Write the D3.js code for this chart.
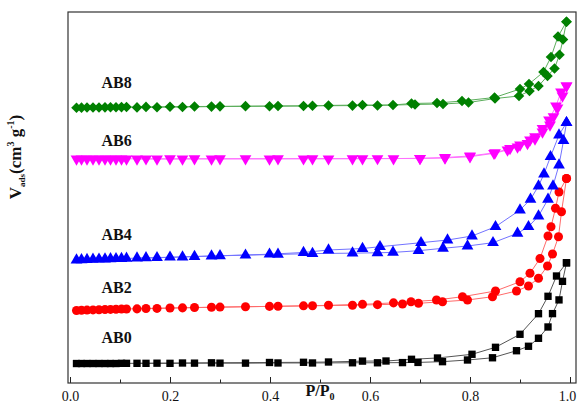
<!DOCTYPE html>
<html>
<head>
<meta charset="utf-8">
<script src="https://cdn.jsdelivr.net/npm/d3@7"></script>
<style>
  body { margin: 0; background: #fff; }
  svg { display: block; }
</style>
</head>
<body>
<svg></svg>
<script>
const width = 578;
const height = 404;

// relative pressure points shared by the low part of every adsorption branch
const pLowAds = [0.013, 0.023, 0.034, 0.046, 0.058, 0.07, 0.081, 0.092, 0.103, 0.113,
  0.152, 0.2, 0.249, 0.3, 0.351, 0.416, 0.485, 0.565, 0.615];

const majorTicks = [0, 0.2, 0.4, 0.6, 0.8, 1.0];
const minorTicks = [0.1, 0.3, 0.5, 0.7, 0.9];

// V_ads (curves offset vertically, arbitrary units)
const ab0AdsLow = [5.25, 5.25, 5.25, 5.25, 5.25, 5.25, 5.25, 5.25, 5.3, 5.3, 5.3, 5.3, 5.35, 5.35, 5.35, 5.4, 5.4, 5.45, 5.45];
const ab0AdsHigh = [[0.665, 5.5], [0.696, 5.55], [0.745, 5.75], [0.795, 6.2], [0.845, 6.8], [0.893, 8.7], [0.917, 9.9],
  [0.937, 12.05], [0.956, 15.1], [0.965, 18.7], [0.978, 22.4], [0.985, 27.4], [0.993, 32.4]];
const ab0Des = [[0.993, 32.4], [0.973, 28.84], [0.956, 23.37], [0.937, 18.68], [0.9, 13.13], [0.851, 9.62], [0.804, 7.74],
  [0.735, 6.74], [0.683, 6.39], [0.632, 5.93], [0.585, 5.9], [0.517, 5.66], [0.467, 5.58], [0.399, 5.53], [0.283, 5.44],
  [0.225, 5.39], [0.174, 5.34], [0.134, 5.31]];

const ab2AdsLow = [19.54, 19.6, 19.65, 19.7, 19.76, 19.81, 19.84, 19.89, 19.92, 19.95, 20.08, 20.22, 20.35, 20.46, 20.57, 20.67, 20.81, 20.97, 21.11];
const ab2AdsHigh = [[0.665, 21.29], [0.697, 21.48], [0.745, 21.91], [0.795, 22.37], [0.845, 23.26], [0.893, 24.8], [0.917, 26.15],
  [0.937, 28.22], [0.955, 31.54], [0.965, 34.77], [0.977, 39.43], [0.983, 46.17], [0.993, 55.12]];
const ab2Des = [[0.993, 55.12], [0.978, 51.48], [0.971, 47.09], [0.962, 42.13], [0.956, 39.62], [0.94, 33.56], [0.92, 29.57],
  [0.9, 27.3], [0.851, 24.8], [0.785, 23.26], [0.733, 22.37], [0.682, 21.91], [0.647, 21.6], [0.585, 21.2], [0.517, 20.94],
  [0.467, 20.8], [0.399, 20.65], [0.283, 20.4], [0.225, 20.25], [0.174, 20.1], [0.134, 19.98]];

const ab4AdsLow = [33.15, 33.21, 33.26, 33.32, 33.37, 33.42, 33.45, 33.5, 33.53, 33.58, 33.72, 33.91, 34.1, 34.29, 34.45, 34.66, 34.88, 35.0, 35.1];
const ab4AdsHigh = [[0.646, 35.2], [0.697, 35.66], [0.746, 36.31], [0.795, 36.93], [0.846, 37.82], [0.895, 40.35], [0.917, 42.13],
  [0.937, 45.01], [0.956, 49.51], [0.966, 53.1], [0.978, 58.76], [0.987, 65.31], [0.993, 70.16]];
const ab4Des = [[0.993, 70.16], [0.978, 66.85], [0.961, 61], [0.948, 56.33], [0.937, 53.1], [0.921, 49.51], [0.9, 46.63],
  [0.851, 42.13], [0.804, 39.62], [0.755, 38.54], [0.702, 37.82], [0.62, 36.74], [0.585, 36.25], [0.517, 35.85],
  [0.467, 35.18], [0.399, 34.72], [0.283, 34.23], [0.225, 33.96], [0.174, 33.77], [0.134, 33.67]];

const ab6AdsLow = [60.38, 60.38, 60.39, 60.39, 60.4, 60.4, 60.41, 60.41, 60.42, 60.42, 60.43, 60.44, 60.45, 60.46, 60.47, 60.47, 60.48, 60.49, 60.5];
const ab6AdsHigh = [[0.7, 60.51], [0.75, 60.65], [0.8, 61], [0.848, 61.91], [0.875, 62.8], [0.895, 63.61], [0.915, 64.56],
  [0.93, 65.77], [0.945, 67.65], [0.96, 69.54], [0.967, 71.78], [0.975, 74.12], [0.985, 77.36], [0.993, 80.05]];
const ab6Des = [[0.993, 80.05], [0.982, 78.44], [0.972, 74.66], [0.958, 70.89], [0.945, 68.65], [0.93, 66.39], [0.92, 65.5],
  [0.9, 64.15], [0.88, 63.21], [0.85, 62.07], [0.8, 61.19], [0.75, 60.78], [0.7, 60.57], [0.647, 60.49], [0.585, 60.46],
  [0.517, 60.43], [0.467, 60.43], [0.399, 60.4], [0.283, 60.4], [0.225, 60.38], [0.174, 60.38], [0.134, 60.38]];

const ab8AdsLow = [74.2, 74.22, 74.24, 74.26, 74.28, 74.3, 74.32, 74.34, 74.36, 74.38, 74.42, 74.47, 74.52, 74.57, 74.62, 74.67, 74.72, 74.77, 74.8];
const ab8AdsHigh = [[0.69, 75.07], [0.746, 75.2], [0.797, 75.61], [0.85, 76.68], [0.898, 77.36], [0.919, 78.71], [0.937, 80.05],
  [0.955, 82.75], [0.969, 84.77], [0.979, 88.49], [0.986, 92.59], [0.993, 97.39]];
const ab8Des = [[0.993, 97.39], [0.976, 93.4], [0.962, 87.87], [0.947, 83.83], [0.918, 80.59], [0.9, 79.25], [0.849, 76.95],
  [0.784, 76.01], [0.734, 75.47], [0.683, 75.34], [0.646, 74.93], [0.585, 74.93], [0.517, 74.82], [0.467, 74.66],
  [0.399, 74.61], [0.283, 74.5], [0.225, 74.39], [0.174, 74.34], [0.134, 74.29]];

const names = ['AB0', 'AB2', 'AB4', 'AB6', 'AB8'];
const labelV = [10.86, 24.34, 38.54, 63.88, 79.43];

const series = [
  { color: '#000000', line: '#555555', shape: 'square', low: ab0AdsLow, high: ab0AdsHigh, des: ab0Des },
  { color: '#ff0000', line: '#ff6a6a', shape: 'circle', low: ab2AdsLow, high: ab2AdsHigh, des: ab2Des },
  { color: '#0000ff', line: '#7373ff', shape: 'up', low: ab4AdsLow, high: ab4AdsHigh, des: ab4Des },
  { color: '#ff00ff', line: '#ff70ff', shape: 'down', low: ab6AdsLow, high: ab6AdsHigh, des: ab6Des },
  { color: '#008000', line: '#5cae5c', shape: 'diamond', low: ab8AdsLow, high: ab8AdsHigh, des: ab8Des }
];

const plotLeft = 68, plotRight = 576, plotTop = 12, plotBottom = 383;

const xScale = d3.scaleLinear()
    .domain([-0.004, 1.012])
    .range([plotLeft, plotRight]);

const yScale = d3.scaleLinear()
    .domain([0, 100])
    .range([plotBottom, plotTop]);

const svg = d3.select('svg')
    .attr('width', width)
    .attr('height', height)
    .style('font-family', '"Liberation Serif", "Times New Roman", serif');

svg.append('rect')
    .attr('width', width)
    .attr('height', height)
    .attr('fill', '#fff');

// minor + major ticks pointing inward
svg.append('g')
    .attr('transform', 'translate(0,' + plotBottom + ')')
    .call(d3.axisBottom(xScale).tickValues(minorTicks).tickSize(-3.5).tickFormat(''))
    .call(g => g.select('.domain').remove())
    .call(g => g.selectAll('line').attr('stroke', '#222'));

svg.append('g')
    .attr('transform', 'translate(0,' + plotBottom + ')')
    .call(d3.axisBottom(xScale).tickValues(majorTicks).tickSize(-6).tickPadding(8).tickFormat(d3.format('.1f')))
    .call(g => g.select('.domain').remove())
    .call(g => g.selectAll('line').attr('stroke', '#222'))
    .call(g => g.selectAll('text')
        .attr('font-family', '"Liberation Serif", serif')
        .attr('font-size', 14)
        .attr('fill', '#111')
        .attr('dx', d => d === 1 ? -3 : 0));

const symbols = {
  square: { type: d3.symbolSquare, size: 54, rot: 0 },
  circle: { type: d3.symbolCircle, size: 64, rot: 0 },
  up: { type: d3.symbolTriangle, size: 60, rot: 0 },
  down: { type: d3.symbolTriangle, size: 60, rot: 180 },
  diamond: { type: d3.symbolSquare, size: 56, rot: 45 }
};

const line = d3.line()
    .x(d => xScale(d[0]))
    .y(d => yScale(d[1]));

series.forEach(s => {
  const ads = pLowAds.map((p, i) => [p, s.low[i]]).concat(s.high);
  const g = svg.append('g');

  [ads, s.des].forEach(branch => {
    g.append('path')
        .datum(branch)
        .attr('fill', 'none')
        .attr('stroke', s.line)
        .attr('stroke-width', 1)
        .attr('d', line);
  });

  const sym = symbols[s.shape];
  g.selectAll('path.pt')
    .data(ads.concat(s.des))
    .enter()
    .append('path')
    .attr('class', 'pt')
    .attr('d', d3.symbol().type(sym.type).size(sym.size))
    .attr('transform', d => 'translate(' + xScale(d[0]) + ',' + yScale(d[1]) + ') rotate(' + sym.rot + ')')
    .attr('fill', s.color);
});

// frame
svg.append('rect')
    .attr('x', plotLeft)
    .attr('y', plotTop)
    .attr('width', plotRight - plotLeft)
    .attr('height', plotBottom - plotTop)
    .attr('fill', 'none')
    .attr('stroke', '#333')
    .attr('stroke-width', 1.2);

// series labels
svg.selectAll('text.name')
    .data(names)
    .enter()
    .append('text')
    .attr('class', 'name')
    .attr('x', xScale(0.063))
    .attr('y', (d, i) => yScale(labelV[i]))
    .attr('font-size', 16)
    .attr('font-weight', 'bold')
    .attr('fill', '#111')
    .text(d => d);

// x label
const xl = svg.append('text')
    .attr('x', 320)
    .attr('y', 396)
    .attr('text-anchor', 'middle')
    .attr('font-size', 16)
    .attr('font-weight', 'bold')
    .attr('fill', '#111');
xl.append('tspan').text('P/P');
xl.append('tspan').attr('font-size', 10).attr('dy', 4).text('0');

// y label
const yl = svg.append('text')
    .attr('transform', 'translate(21,' + 157 + ') rotate(-90)')
    .attr('text-anchor', 'middle')
    .attr('font-size', 17)
    .attr('font-weight', 'bold')
    .attr('fill', '#111');
yl.append('tspan').text('V');
yl.append('tspan').attr('font-size', 9).attr('dy', 4).text('ads');
yl.append('tspan').attr('dy', -4).text('(cm');
yl.append('tspan').attr('font-size', 10).attr('dy', -7).text('3');
yl.append('tspan').attr('dy', 7).text(' g');
yl.append('tspan').attr('font-size', 10).attr('dy', -7).text('-1');
yl.append('tspan').attr('dy', 7).text(')');
</script>
</body>
</html>
